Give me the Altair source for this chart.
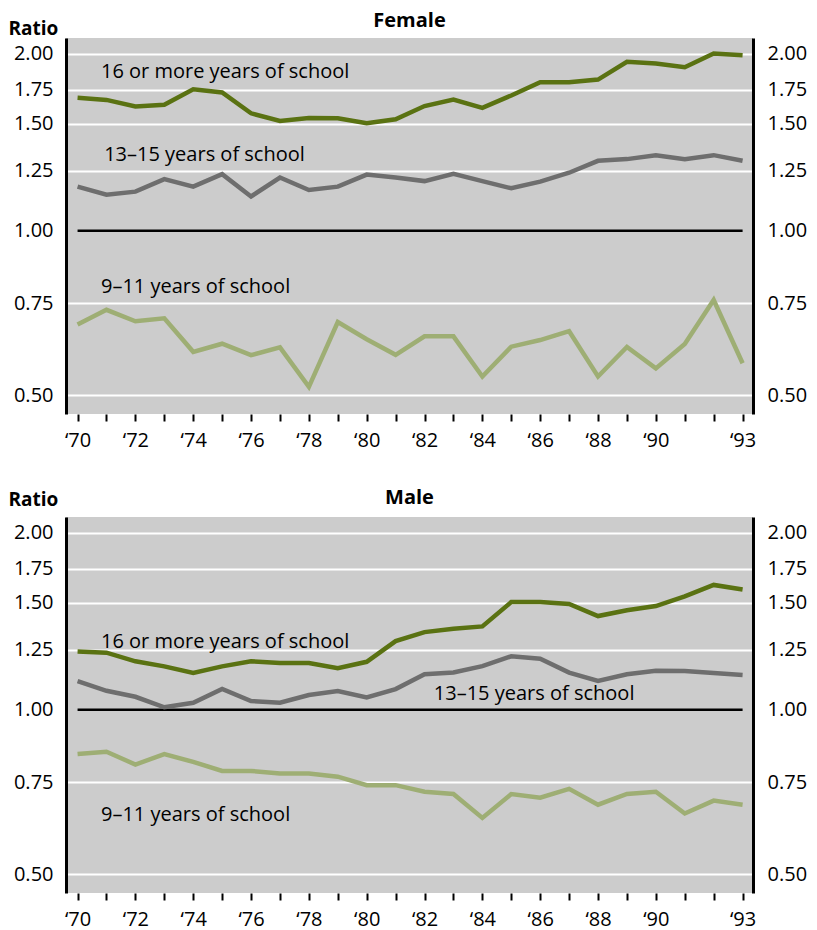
import altair as alt
import pandas as pd

years = list(range(1970, 1994))

groups = ["16 or more years of school", "13–15 years of school", "9–11 years of school"]
colors = ["#5a7212", "#6e6e6e", "#9eae74"]

female_16 = [1.689, 1.674, 1.626, 1.638, 1.752, 1.728, 1.576, 1.520, 1.541, 1.539, 1.503, 1.532,
             1.629, 1.677, 1.616, 1.706, 1.801, 1.801, 1.819, 1.942, 1.931, 1.905, 2.000, 1.988]
female_13 = [1.184, 1.150, 1.163, 1.215, 1.184, 1.236, 1.143, 1.222, 1.170, 1.184, 1.234, 1.222,
             1.207, 1.237, 1.207, 1.177, 1.205, 1.242, 1.303, 1.312, 1.333, 1.312, 1.333, 1.303]
female_9 = [0.692, 0.732, 0.701, 0.709, 0.618, 0.640, 0.609, 0.630, 0.523, 0.699, 0.652, 0.610,
            0.660, 0.660, 0.551, 0.632, 0.650, 0.674, 0.551, 0.631, 0.573, 0.639, 0.761, 0.587]
male_16 = [1.243, 1.238, 1.202, 1.181, 1.153, 1.181, 1.202, 1.195, 1.195, 1.173, 1.200, 1.296,
           1.344, 1.362, 1.374, 1.505, 1.505, 1.493, 1.429, 1.460, 1.482, 1.547, 1.630, 1.596]
male_13 = [1.119, 1.079, 1.054, 1.010, 1.029, 1.087, 1.036, 1.029, 1.061, 1.078, 1.051, 1.086,
           1.148, 1.155, 1.182, 1.223, 1.213, 1.155, 1.120, 1.148, 1.163, 1.162, 1.153, 1.145]
male_9 = [0.847, 0.855, 0.811, 0.847, 0.820, 0.789, 0.789, 0.780, 0.780, 0.769, 0.742, 0.742,
          0.724, 0.718, 0.653, 0.718, 0.708, 0.732, 0.689, 0.718, 0.724, 0.665, 0.700, 0.689]

y_ticks = [0.5, 0.75, 1.0, 1.25, 1.5, 1.75, 2.0]
reference_ratio = 1.0

female_label_x = [1970.81, 1970.92, 1970.81]
female_label_y = [1.830, 1.302, 0.784]
male_label_x = [1970.81, 1982.32, 1970.81]
male_label_y = [1.261, 1.040, 0.644]

FONT = "Open Sans"
W, H = 687, 376

# scale stops (ratio -> pixel from top of plot area), reproducing the original's axis spacing
y_domain = [0.448, 0.5, 0.75, 1.0, 1.25, 1.5, 1.75, 2.0, 2.104]
y_range = [376, 357.3, 265.2, 192.7, 132.8, 85.7, 51.5, 15.5, 0]


def long_df(series):
    rows = []
    for g, vals in zip(groups, series):
        for yr, v in zip(years, vals):
            rows.append({"year": yr, "ratio": v, "group": g})
    return pd.DataFrame(rows)


def panel(title, series, lab_x, lab_y, title_offset, ratio_y):
    df = long_df(series)
    labels = pd.DataFrame({"x": lab_x, "y": lab_y, "text": groups})
    rule_df = pd.DataFrame({"x0": [years[0]], "x1": [years[-1]], "y": [reference_ratio]})

    xscale = alt.Scale(domain=[1969.6, 1993.36], nice=False, zero=False)
    yscale = alt.Scale(type="linear", domain=y_domain, range=y_range, nice=False, zero=False)

    x_axis = alt.Axis(
        values=years, title=None, domain=False, grid=False,
        ticks=True, tickSize=7, tickWidth=2, tickColor="black",
        labelExpr="((datum.value % 2 == 0 && datum.value <= 1990) || datum.value == 1993) ? '‘' + slice(toString(datum.value), 2) : ''",
        labelFontSize=20, labelFont=FONT, labelColor="black", labelPadding=9,
        labelFlush=False, labelOverlap=False,
    )
    left_axis = alt.Axis(
        orient="left", values=y_ticks, format=".2f",
        ticks=False, tickSize=0, domain=True, domainColor="black", domainWidth=3,
        grid=True, gridWidth=2,
        gridColor={"condition": {"test": "datum.value == 1", "value": "transparent"}, "value": "white"},
        labelFontSize=20, labelFont=FONT, labelColor="black", labelPadding=13, labelFlush=False,
        title="Ratio", titleAngle=0, titleAlign="left", titleBaseline="alphabetic",
        titleX=-58, titleY=ratio_y, titleFont=FONT, titleFontSize=19, titleFontWeight="bold",
        titleColor="black",
    )
    right_axis = alt.Axis(
        orient="right", values=y_ticks, format=".2f",
        ticks=False, tickSize=0, domain=True, domainColor="black", domainWidth=3, grid=False,
        labelFontSize=20, labelFont=FONT, labelColor="black", labelPadding=14, labelFlush=False,
        title=None,
    )

    rule = alt.Chart(rule_df).mark_rule(color="black", strokeWidth=2.5).encode(
        x=alt.X("x0:Q", scale=xscale, axis=x_axis),
        x2="x1:Q",
        y=alt.Y("y:Q", scale=yscale, axis=right_axis),
    )
    lines = alt.Chart(df).mark_line(strokeWidth=4.5).encode(
        x=alt.X("year:Q", scale=xscale, axis=x_axis),
        y=alt.Y("ratio:Q", scale=yscale, axis=left_axis),
        color=alt.Color("group:N", scale=alt.Scale(domain=groups, range=colors), legend=None),
        detail="group:N",
    )
    text = alt.Chart(labels).mark_text(
        align="left", baseline="alphabetic", font=FONT, fontSize=20, color="black"
    ).encode(
        x=alt.X("x:Q", scale=xscale, axis=x_axis),
        y=alt.Y("y:Q", scale=yscale, axis=None),
        text="text:N",
    )
    return alt.layer(rule, lines, text).resolve_axis(y="independent").resolve_scale(y="shared").properties(
        width=W, height=H,
        title=alt.TitleParams(title, font=FONT, fontSize=20, fontWeight="bold", color="black",
                              anchor="middle", frame="group", baseline="alphabetic", offset=title_offset),
    )


top = panel("Female", [female_16, female_13, female_9], female_label_x, female_label_y, -27.5, -4)
bottom = panel("Male", [male_16, male_13, male_9], male_label_x, male_label_y, -33.5, -12)

chart = alt.vconcat(top, bottom, spacing=37).properties(
    padding={"top": 2, "left": 0, "right": 0, "bottom": 0}
).configure(font=FONT, background="white").configure_view(fill="#cccccc", stroke=None)

chart.save("out.html", embed_options={"renderer": "svg", "actions": False})
